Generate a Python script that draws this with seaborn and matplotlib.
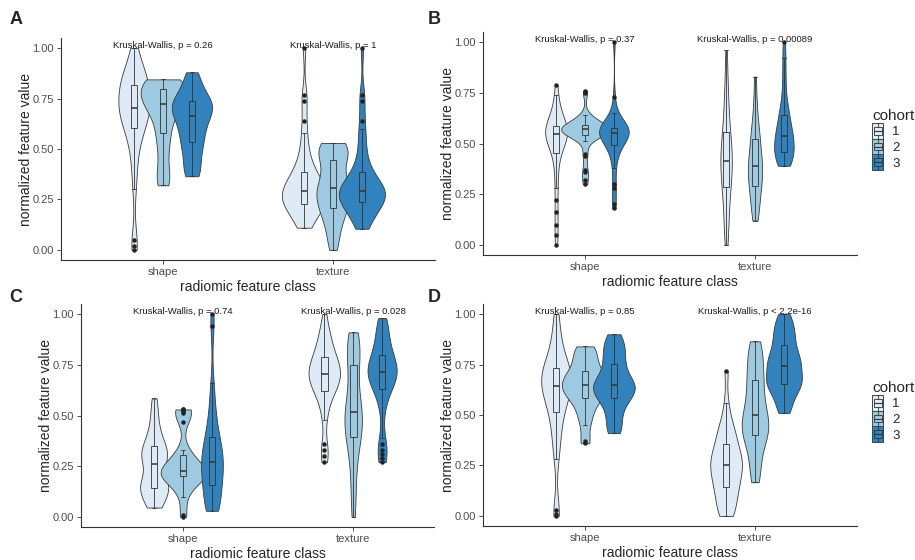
import matplotlib
matplotlib.use("Agg")
import matplotlib.pyplot as plt
import seaborn as sns
import pandas as pd
from matplotlib.patches import Patch, Rectangle
from matplotlib.lines import Line2D
from matplotlib.legend_handler import HandlerPatch

sns.set_theme(style="ticks")
plt.rcParams["font.family"] = ["Liberation Sans", "DejaVu Sans"]

classes = ["shape", "texture"]
cohorts = ["1", "2", "3"]
palette = ["#DEEBF7", "#9ECAE1", "#3182BD"]
ytick_vals = [0.0, 0.25, 0.5, 0.75, 1.0]
ytick_labels = ["0.00", "0.25", "0.50", "0.75", "1.00"]

a_shape_1 = [0.00, 0.02, 0.05, 0.30, 0.38, 0.45, 0.50, 0.54, 0.57, 0.60, 0.61, 0.62, 0.64,
             0.66, 0.67, 0.68, 0.69, 0.69, 0.70, 0.71, 0.72, 0.73, 0.75, 0.76, 0.78, 0.79,
             0.80, 0.81, 0.82, 0.83, 0.84, 0.85, 0.86, 0.88, 0.90, 0.92, 0.95, 1.00]
a_shape_2 = [0.32, 0.33, 0.36, 0.40, 0.45, 0.50, 0.54, 0.57, 0.60, 0.63, 0.66, 0.68, 0.70,
             0.71, 0.72, 0.73, 0.74, 0.75, 0.76, 0.77, 0.78, 0.79, 0.80, 0.81, 0.82, 0.83,
             0.84, 0.845, 0.845, 0.845]
a_shape_3 = [0.365, 0.37, 0.40, 0.43, 0.46, 0.49, 0.51, 0.53, 0.55, 0.57, 0.59, 0.61, 0.62,
             0.64, 0.66, 0.67, 0.68, 0.69, 0.70, 0.71, 0.72, 0.73, 0.74, 0.75, 0.76, 0.78,
             0.80, 0.83, 0.86, 0.88]
a_texture_1 = [0.11, 0.12, 0.14, 0.16, 0.18, 0.19, 0.20, 0.21, 0.22, 0.22, 0.23, 0.24, 0.25,
               0.25, 0.26, 0.27, 0.27, 0.28, 0.28, 0.29, 0.29, 0.30, 0.31, 0.32, 0.33, 0.34,
               0.35, 0.36, 0.37, 0.38, 0.40, 0.42, 0.45, 0.48, 0.52, 0.58, 0.64, 0.74, 0.77, 1.00]
a_texture_2 = [0.00, 0.04, 0.08, 0.11, 0.14, 0.16, 0.18, 0.20, 0.21, 0.22, 0.24, 0.25, 0.27,
               0.28, 0.29, 0.30, 0.31, 0.32, 0.34, 0.36, 0.38, 0.40, 0.42, 0.44, 0.46, 0.48,
               0.49, 0.50, 0.51, 0.52, 0.53, 0.53]
a_texture_3 = [0.105, 0.12, 0.14, 0.16, 0.18, 0.19, 0.20, 0.21, 0.22, 0.23, 0.24, 0.25, 0.26,
               0.26, 0.27, 0.27, 0.28, 0.28, 0.28, 0.29, 0.29, 0.30, 0.30, 0.31, 0.32, 0.33,
               0.34, 0.35, 0.37, 0.38, 0.40, 0.43, 0.46, 0.50, 0.55, 0.60, 0.64, 0.74, 0.77, 1.00]
a_pvals = ["p = 0.26", "p = 1"]

# panel B
b_shape_1 = [0.00, 0.05, 0.10, 0.16, 0.22, 0.28, 0.33, 0.38, 0.42, 0.45, 0.47, 0.48, 0.50,
             0.51, 0.52, 0.53, 0.53, 0.54, 0.54, 0.55, 0.55, 0.55, 0.56, 0.56, 0.57, 0.57,
             0.58, 0.58, 0.59, 0.60, 0.61, 0.62, 0.63, 0.65, 0.67, 0.70, 0.74, 0.79]
b_shape_2 = [0.30, 0.32, 0.36, 0.37, 0.44, 0.45, 0.51, 0.53, 0.54, 0.54, 0.54, 0.55, 0.55,
             0.55, 0.56, 0.56, 0.56, 0.56, 0.57, 0.57, 0.57, 0.57, 0.57, 0.58, 0.58, 0.58,
             0.58, 0.59, 0.59, 0.59, 0.60, 0.60, 0.61, 0.62, 0.63, 0.64, 0.75, 0.76]
b_shape_3 = [0.18, 0.20, 0.28, 0.30, 0.38, 0.42, 0.45, 0.47, 0.49, 0.50, 0.51, 0.52, 0.53,
             0.54, 0.54, 0.55, 0.55, 0.55, 0.56, 0.56, 0.56, 0.56, 0.57, 0.57, 0.57, 0.58,
             0.58, 0.59, 0.60, 0.61, 0.63, 0.65, 0.73, 1.00]
b_texture_1 = [0.00, 0.05, 0.10, 0.14, 0.18, 0.22, 0.25, 0.28, 0.30, 0.32, 0.34, 0.36, 0.38,
               0.40, 0.41, 0.42, 0.44, 0.46, 0.48, 0.50, 0.52, 0.54, 0.56, 0.60, 0.64, 0.68,
               0.72, 0.78, 0.85, 0.96]
b_texture_2 = [0.12, 0.15, 0.18, 0.21, 0.24, 0.27, 0.29, 0.30, 0.32, 0.34, 0.36, 0.38, 0.39,
               0.40, 0.42, 0.44, 0.46, 0.49, 0.52, 0.54, 0.56, 0.60, 0.65, 0.72, 0.83]
b_texture_3 = [0.39, 0.40, 0.41, 0.42, 0.43, 0.44, 0.45, 0.46, 0.47, 0.48, 0.50, 0.51, 0.52,
               0.53, 0.54, 0.55, 0.56, 0.58, 0.60, 0.62, 0.64, 0.65, 0.68, 0.72, 0.78, 0.85,
               0.92, 1.00]
b_pvals = ["p = 0.37", "p = 0.00089"]

# panel C
c_shape_1 = [0.046, 0.05, 0.07, 0.09, 0.11, 0.12, 0.13, 0.14, 0.15, 0.16, 0.17, 0.18, 0.19,
             0.21, 0.25, 0.27, 0.28, 0.29, 0.30, 0.31, 0.32, 0.34, 0.35, 0.36, 0.38, 0.41,
             0.44, 0.48, 0.53, 0.584]
c_shape_2 = [0.00, 0.01, 0.10, 0.14, 0.16, 0.18, 0.19, 0.20, 0.20, 0.21, 0.21, 0.21, 0.22,
             0.22, 0.22, 0.23, 0.23, 0.24, 0.25, 0.26, 0.28, 0.30, 0.31, 0.33, 0.47, 0.51,
             0.52, 0.52, 0.53, 0.53]
c_shape_3 = [0.03, 0.04, 0.05, 0.06, 0.08, 0.10, 0.12, 0.15, 0.17, 0.19, 0.21, 0.22, 0.24,
             0.26, 0.27, 0.27, 0.29, 0.30, 0.32, 0.34, 0.36, 0.38, 0.40, 0.43, 0.47, 0.52,
             0.58, 0.66, 0.94, 1.00]
c_texture_1 = [0.27, 0.30, 0.33, 0.36, 0.48, 0.52, 0.56, 0.59, 0.61, 0.62, 0.63, 0.64, 0.65,
               0.66, 0.67, 0.68, 0.69, 0.70, 0.70, 0.71, 0.71, 0.72, 0.73, 0.74, 0.75, 0.76,
               0.77, 0.78, 0.79, 0.80, 0.81, 0.83, 0.85, 0.87, 0.89, 0.91, 0.94, 1.00]
c_texture_2 = [0.00, 0.08, 0.15, 0.22, 0.28, 0.32, 0.36, 0.39, 0.40, 0.42, 0.44, 0.46, 0.48,
               0.50, 0.51, 0.52, 0.54, 0.57, 0.60, 0.63, 0.67, 0.72, 0.76, 0.78, 0.80, 0.83,
               0.85, 0.88, 0.90, 0.91]
c_texture_3 = [0.27, 0.29, 0.31, 0.33, 0.36, 0.39, 0.52, 0.56, 0.60, 0.63, 0.64, 0.65, 0.66,
               0.67, 0.68, 0.69, 0.70, 0.71, 0.71, 0.72, 0.72, 0.73, 0.74, 0.75, 0.76, 0.77,
               0.78, 0.79, 0.80, 0.82, 0.84, 0.86, 0.88, 0.90, 0.92, 0.95, 0.97, 0.98]
c_pvals = ["p = 0.74", "p = 0.028"]

# panel D
d_shape_1 = [0.00, 0.01, 0.03, 0.28, 0.33, 0.38, 0.42, 0.46, 0.49, 0.52, 0.54, 0.56, 0.58,
             0.60, 0.61, 0.62, 0.63, 0.64, 0.65, 0.66, 0.67, 0.68, 0.69, 0.70, 0.71, 0.72,
             0.73, 0.74, 0.75, 0.77, 0.79, 0.82, 0.86, 0.90, 0.95, 1.00]
d_shape_2 = [0.36, 0.37, 0.45, 0.48, 0.51, 0.54, 0.56, 0.58, 0.59, 0.60, 0.61, 0.62, 0.63,
             0.64, 0.645, 0.65, 0.66, 0.67, 0.68, 0.69, 0.70, 0.71, 0.72, 0.74, 0.76, 0.78,
             0.80, 0.82, 0.83, 0.84]
d_shape_3 = [0.41, 0.42, 0.45, 0.48, 0.51, 0.54, 0.56, 0.58, 0.59, 0.60, 0.61, 0.62, 0.63,
             0.64, 0.645, 0.65, 0.66, 0.67, 0.68, 0.70, 0.72, 0.74, 0.76, 0.78, 0.80, 0.82,
             0.84, 0.86, 0.88, 0.90]
d_texture_1 = [0.00, 0.01, 0.03, 0.05, 0.08, 0.10, 0.12, 0.14, 0.15, 0.17, 0.19, 0.20, 0.22,
               0.23, 0.24, 0.26, 0.27, 0.28, 0.29, 0.30, 0.32, 0.34, 0.36, 0.38, 0.40, 0.42,
               0.45, 0.48, 0.56, 0.72]
d_texture_2 = [0.167, 0.20, 0.24, 0.28, 0.32, 0.35, 0.38, 0.395, 0.41, 0.42, 0.43, 0.44, 0.46,
               0.48, 0.49, 0.51, 0.53, 0.55, 0.57, 0.60, 0.63, 0.66, 0.68, 0.70, 0.73, 0.76,
               0.79, 0.82, 0.85, 0.865]
d_texture_3 = [0.51, 0.53, 0.56, 0.59, 0.61, 0.63, 0.64, 0.65, 0.66, 0.67, 0.68, 0.69, 0.70,
               0.72, 0.74, 0.75, 0.76, 0.77, 0.78, 0.79, 0.81, 0.83, 0.85, 0.87, 0.89, 0.91,
               0.93, 0.95, 0.98, 1.00]
d_pvals = ["p = 0.85", "p < 2.2e-16"]


def to_long(groups):
    # groups: {(class, cohort): values}
    rows = []
    for (cls, coh), vals in groups.items():
        for v in vals:
            rows.append({"cls": cls, "cohort": coh, "value": v})
    return pd.DataFrame(rows)


df_a = to_long({("shape", "1"): a_shape_1, ("shape", "2"): a_shape_2, ("shape", "3"): a_shape_3,
                ("texture", "1"): a_texture_1, ("texture", "2"): a_texture_2, ("texture", "3"): a_texture_3})
df_b = to_long({("shape", "1"): b_shape_1, ("shape", "2"): b_shape_2, ("shape", "3"): b_shape_3,
                ("texture", "1"): b_texture_1, ("texture", "2"): b_texture_2, ("texture", "3"): b_texture_3})
df_c = to_long({("shape", "1"): c_shape_1, ("shape", "2"): c_shape_2, ("shape", "3"): c_shape_3,
                ("texture", "1"): c_texture_1, ("texture", "2"): c_texture_2, ("texture", "3"): c_texture_3})
df_d = to_long({("shape", "1"): d_shape_1, ("shape", "2"): d_shape_2, ("shape", "3"): d_shape_3,
                ("texture", "1"): d_texture_1, ("texture", "2"): d_texture_2, ("texture", "3"): d_texture_3})


def draw_panel(ax, df, pvals, vgap, xmax=1.6):
    sns.violinplot(data=df, x="cls", y="value", hue="cohort", order=classes, hue_order=cohorts,
                   palette=palette, saturation=1, width=0.51, gap=vgap, cut=0, inner=None,
                   density_norm="area", common_norm=True, bw_adjust=0.7,
                   linecolor="#3a3a3a", linewidth=0.6, legend=False, ax=ax)
    sns.boxplot(data=df, x="cls", y="value", hue="cohort", order=classes, hue_order=cohorts,
                palette=palette, saturation=1, width=0.51, gap=0.77,
                linecolor="#333333", linewidth=0.6, fliersize=2.2, legend=False, ax=ax,
                flierprops=dict(marker="o", markerfacecolor="#222222", markeredgecolor="#222222"),
                medianprops=dict(linewidth=1.1))
    for i, p in enumerate(pvals):
        ax.text(i, 1.015, f"Kruskal-Wallis, {p}", ha="center", va="center", fontsize=6.8,
                color="#1a1a1a")
    ax.set_xlim(-0.6, xmax)
    ax.set_ylim(-0.05, 1.05)
    ax.set_yticks(ytick_vals)
    ax.set_yticklabels(ytick_labels)
    ax.set_xlabel("radiomic feature class", fontsize=10, labelpad=2)
    ax.set_ylabel("normalized feature value", fontsize=10, labelpad=-0.5)
    ax.tick_params(axis="both", labelsize=8, labelcolor="#4d4d4d", color="#333333",
                   length=3, width=0.6, pad=2)
    sns.despine(ax=ax)
    for s in ["left", "bottom"]:
        ax.spines[s].set_color("#333333")
        ax.spines[s].set_linewidth(0.8)


class BoxKey(HandlerPatch):
    # ggplot-like key: filled square with a small boxplot glyph inside
    def create_artists(self, legend, orig_handle, xdescent, ydescent, width, height, fontsize, trans):
        fc = orig_handle.get_facecolor()
        x0, y0 = -xdescent, -ydescent
        outer = Rectangle((x0, y0), width, height, facecolor=fc, edgecolor="#444444", lw=0.7,
                          transform=trans)
        whisk = Line2D([x0 + width / 2] * 2, [y0, y0 + height], color="#333333", lw=0.6,
                       transform=trans)
        inner = Rectangle((x0 + width * 0.15, y0 + height * 0.25), width * 0.7, height * 0.5,
                          facecolor=fc, edgecolor="#333333", lw=0.6, transform=trans)
        med = Line2D([x0 + width * 0.15, x0 + width * 0.85], [y0 + height * 0.5] * 2,
                     color="#333333", lw=0.8, transform=trans)
        return [outer, whisk, inner, med]


fig = plt.figure(figsize=(9.15, 5.6), dpi=100)
ax_a = fig.add_axes([61 / 915, 1 - 260 / 560, 374 / 915, 222 / 560])
ax_b = fig.add_axes([483 / 915, 1 - 255 / 560, 374 / 915, 223 / 560])
ax_c = fig.add_axes([81 / 915, 1 - 527 / 560, 353 / 915, 223 / 560])
ax_d = fig.add_axes([483 / 915, 1 - 526 / 560, 374 / 915, 222 / 560])

draw_panel(ax_a, df_a, a_pvals, -0.6)
draw_panel(ax_b, df_b, b_pvals, -0.65)
draw_panel(ax_c, df_c, c_pvals, -0.55, xmax=1.475)
draw_panel(ax_d, df_d, d_pvals, -0.6)

for lab, x, y in [("A", 16, 20), ("B", 434, 20), ("C", 16, 298), ("D", 434, 298)]:
    fig.text(x / 915, 1 - y / 560, lab, fontsize=13, fontweight="bold", ha="center", va="center")

handles = [Patch(facecolor=c, edgecolor="#333333", linewidth=0.6) for c in palette]
for top in [109, 381]:
    fig.legend(handles=handles, labels=cohorts, title="cohort", loc="upper left",
               bbox_to_anchor=(872 / 915, 1 - top / 560), frameon=False, fontsize=9.5,
               title_fontsize=11, handlelength=0.85, handleheight=1.45, labelspacing=0.0,
               handletextpad=0.7, alignment="left", borderpad=0.0, borderaxespad=0.0,
               handler_map={Patch: BoxKey()})

fig.savefig("out.png", dpi=100)
